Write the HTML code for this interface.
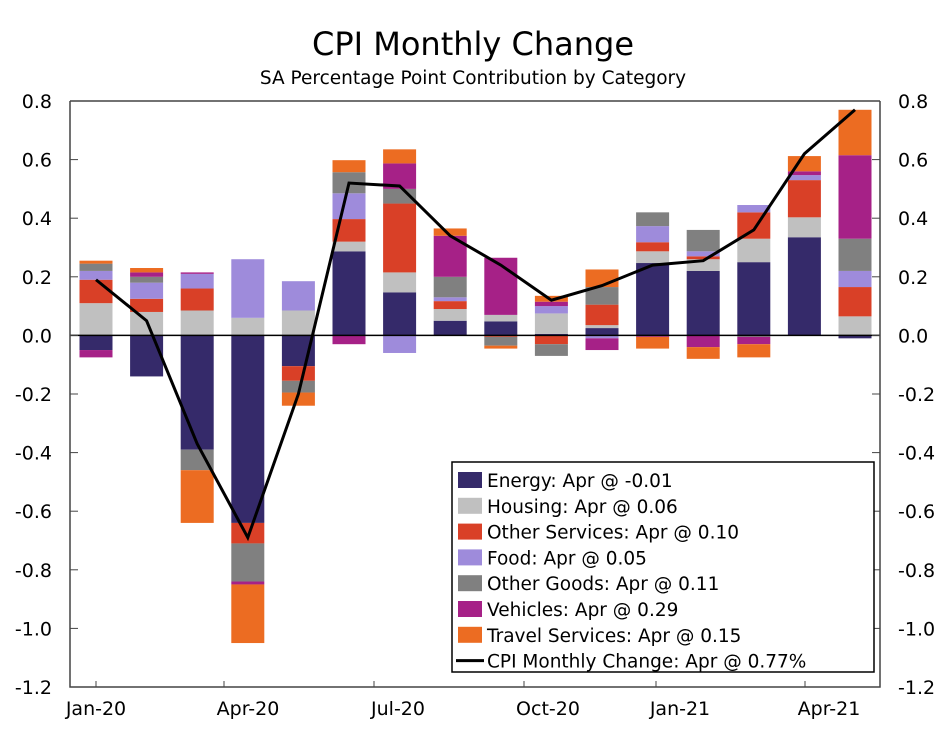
<!DOCTYPE html>
<html><head><meta charset="utf-8"><style>
body{margin:0;background:#fff;font-family:"DejaVu Sans",sans-serif}
svg text{font-family:"DejaVu Sans",sans-serif}
</style></head><body>
<svg id="c" width="947" height="727" xmlns="http://www.w3.org/2000/svg">
<text x="473" y="55" font-size="32" text-anchor="middle">CPI Monthly Change</text>
<text x="473" y="84" font-size="18.5" text-anchor="middle">SA Percentage Point Contribution by Category</text>
<g id="plot"></g>
</svg>
<script>
const months=["Jan-20","Feb-20","Mar-20","Apr-20","May-20","Jun-20","Jul-20","Aug-20","Sep-20","Oct-20","Nov-20","Dec-20","Jan-21","Feb-21","Mar-21","Apr-21"];
const seriesNames=["Energy","Housing","Other Services","Food","Other Goods","Vehicles","Travel Services"];
const energy=[-0.05,-0.14,-0.39,-0.64,-0.105,0.287,0.147,0.05,0.048,0.005,0.025,0.247,0.22,0.25,0.335,-0.01];
const housing=[0.11,0.08,0.085,0.06,0.085,0.033,0.068,0.04,0.022,0.07,0.01,0.04,0.04,0.08,0.068,0.065];
const otherServices=[0.08,0.045,0.075,-0.07,-0.05,0.077,0.235,0.027,-0.005,-0.03,0.07,0.031,0.01,0.09,0.127,0.10];
const food=[0.03,0.055,0.05,0.20,0.10,0.088,-0.06,0.013,0.0,0.025,-0.01,0.055,0.017,0.025,0.017,0.055];
const otherGoods=[0.025,0.02,-0.07,-0.13,-0.04,0.072,0.05,0.07,-0.03,-0.04,0.06,0.047,0.073,-0.005,0.0,0.11];
const vehicles=[-0.025,0.015,0.005,-0.01,0.0,-0.03,0.087,0.14,0.195,0.015,-0.04,-0.005,-0.04,-0.025,0.013,0.285];
const travel=[0.01,0.015,-0.18,-0.20,-0.045,0.041,0.048,0.025,-0.01,0.02,0.06,-0.04,-0.04,-0.045,0.052,0.155];
const cpiLine=[0.19,0.05,-0.37,-0.69,-0.2,0.52,0.51,0.34,0.24,0.12,0.17,0.24,0.255,0.36,0.62,0.77];
const yTicks=[0.8,0.6,0.4,0.2,0.0,-0.2,-0.4,-0.6,-0.8,-1.0,-1.2];
const xLabels=["Jan-20","Apr-20","Jul-20","Oct-20","Jan-21","Apr-21"];
const apr=["-0.01","0.06","0.10","0.05","0.11","0.29","0.15"];
const colors=["#352a6a","#c0c0c0","#d94027","#9e8bdb","#808080","#a62187","#ec6c22"];
const series=[energy,housing,otherServices,food,otherGoods,vehicles,travel];
const NS="http://www.w3.org/2000/svg";
const g=document.getElementById('plot');
const L=70,R=880,T=101,B=687;
const y=v=>T+(0.8-v)/2.0*(B-T);
const x=i=>96+i*50.6;
const bw=33;
function mk(t,a){const e=document.createElementNS(NS,t);for(const k in a)e.setAttribute(k,a[k]);g.appendChild(e);return e;}
months.forEach((m,i)=>{let pos=0,neg=0;
 series.forEach((s,k)=>{const v=s[i];if(v===0)return;let y0,y1;
  if(v>0){y0=pos;pos+=v;y1=pos;}else{y0=neg;neg+=v;y1=neg;}
  const r=mk('rect',{x:x(i)-bw/2,y:y(Math.max(y0,y1)),width:bw,height:Math.abs(y(y0)-y(y1)),fill:colors[k]});
  
  
 });});
const z=mk('line',{x1:L,x2:R,y1:y(0),y2:y(0),stroke:'#000','stroke-width':1.5});


const f=mk('path',{d:`M${L},${T}H${R}M${L},${T}V${B}H${R}V${T}`,stroke:'#444','stroke-width':1.5,fill:'none'});


yTicks.forEach(v=>{
 mk('line',{x1:L,x2:L+8,y1:y(v),y2:y(v),stroke:'#444'});
 mk('line',{x1:R-8,x2:R,y1:y(v),y2:y(v),stroke:'#444'});
 const s=v.toFixed(1);
 const t1=mk('text',{x:52,y:y(v)+7,'font-size':19,'text-anchor':'end'});t1.textContent=s;
 
 
 const t2=mk('text',{x:898,y:y(v)+7,'font-size':19});t2.textContent=s;
 
 
});
const xl=[96,248,398,548,680,829];
xLabels.forEach((s,i)=>{const t=mk('text',{x:xl[i],y:715,'font-size':19,'text-anchor':'middle'});t.textContent=s;
 
 
 mk('line',{x1:xl[i]+(i?-24:0),x2:xl[i]+(i?-24:0),y1:B-6,y2:B,stroke:'#444'});});
const p=mk('polyline',{points:cpiLine.map((v,i)=>x(i)+','+y(v)).join(' '),fill:'none',stroke:'#000','stroke-width':3,'stroke-linejoin':'miter'});


const lg=mk('rect',{x:452,y:462,width:422,height:210,fill:'#fff',stroke:'#000','stroke-width':1.5});


seriesNames.forEach((n,k)=>{const yy=480+k*25.8;
 mk('rect',{x:458,y:yy-8,width:24,height:16,fill:colors[k]});
 const t=mk('text',{x:487,y:yy+7,'font-size':18.5});t.textContent=n+': Apr @ '+apr[k];
 
 });
const yy=480+7*25.8;
mk('line',{x1:456,x2:484,y1:yy,y2:yy,stroke:'#000','stroke-width':3});
const lt=mk('text',{x:487,y:yy+7,'font-size':18.5});lt.textContent='CPI Monthly Change: Apr @ 0.77%';


</script>
</body></html>
